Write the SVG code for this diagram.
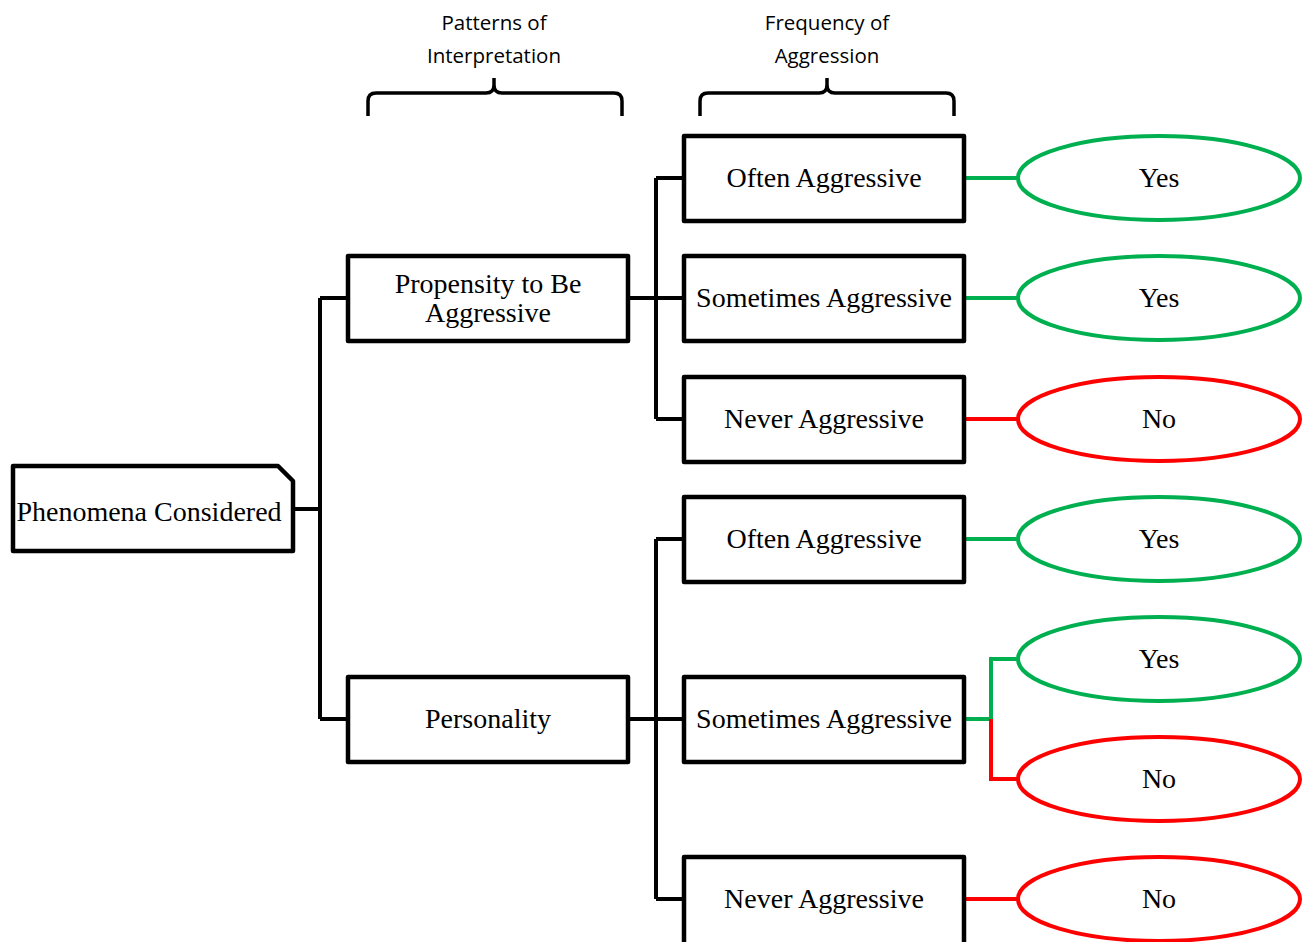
<svg xmlns="http://www.w3.org/2000/svg" width="1304" height="942" viewBox="0 0 1304 942">
<style>
.box{fill:#fff;stroke:#000;stroke-width:4.5;stroke-linejoin:round}
.t{font-family:"Liberation Serif","Times New Roman",serif;font-size:28px;fill:#000;text-anchor:middle}
.h{font-family:"Open Sans","Liberation Sans",Arial,sans-serif;font-size:20.5px;fill:#000;text-anchor:middle}
.k{fill:none;stroke:#000;stroke-width:4;stroke-linejoin:miter}
.g{fill:none;stroke:#00B050;stroke-width:4}
.r{fill:none;stroke:#FF0000;stroke-width:4}
.eg{fill:#fff;stroke:#00B050;stroke-width:4}
.er{fill:#fff;stroke:#FF0000;stroke-width:4}
.br{fill:none;stroke:#000;stroke-width:3.5;stroke-linejoin:round}
</style>
<rect width="1304" height="942" fill="#fff"/>
<g id="headers">
<text class="h" x="494" y="30">Patterns of</text>
<text class="h" x="494" y="63">Interpretation</text>
<text class="h" x="827" y="30">Frequency of</text>
<text class="h" x="827" y="63">Aggression</text>
<path class="br" d="M368,116 V101 Q368,93 376,93 H486 Q494,93 494,85 V78 M494,78 V85 Q494,93 502,93 H614 Q622,93 622,101 V116"/>
<path class="br" d="M700,116 V101 Q700,93 708,93 H819 Q827,93 827,85 V78 M827,78 V85 Q827,93 835,93 H946 Q954,93 954,101 V116"/>
</g>
<g id="connectors">
<path class="k" d="M293,509 H320 M320,298 V719 M320,298 H348 M320,719 H348"/>
<path class="k" d="M628,298 H684 M656,178 V419 M656,178 H684 M656,419 H684"/>
<path class="k" d="M628,719 H684 M656,539 V899 M656,539 H684 M656,899 H684"/>
<path class="g" d="M964,178 H1018 M964,298 H1018 M964,539 H1018 M964,719 H991 V659 H1018"/>
<path class="r" d="M964,419 H1018 M964,899 H1018 M991,719 V779 H1018"/>
</g>
<g id="phenomena">
<path class="box" d="M13,466 H278 L293,481 V551 H13 Z"/>
<text class="t" x="149" y="521">Phenomena Considered</text>
</g>
<g id="propensity">
<rect class="box" x="348" y="256" width="280" height="85"/>
<text class="t" x="488" y="293">Propensity to Be</text>
<text class="t" x="488" y="322">Aggressive</text>
</g>
<g id="personality">
<rect class="box" x="348" y="677" width="280" height="85"/>
<text class="t" x="488" y="728">Personality</text>
</g>
<g id="f1"><rect class="box" x="684" y="136" width="280" height="85"/><text class="t" x="824" y="187">Often Aggressive</text></g>
<g id="f2"><rect class="box" x="684" y="256" width="280" height="85"/><text class="t" x="824" y="307">Sometimes Aggressive</text></g>
<g id="f3"><rect class="box" x="684" y="377" width="280" height="85"/><text class="t" x="824" y="428">Never Aggressive</text></g>
<g id="f4"><rect class="box" x="684" y="497" width="280" height="85"/><text class="t" x="824" y="548">Often Aggressive</text></g>
<g id="f5"><rect class="box" x="684" y="677" width="280" height="85"/><text class="t" x="824" y="728">Sometimes Aggressive</text></g>
<g id="f6"><rect class="box" x="684" y="857" width="280" height="95"/><text class="t" x="824" y="908">Never Aggressive</text></g>
<g id="o1"><ellipse class="eg" cx="1159" cy="178" rx="141" ry="42"/><text class="t" x="1159" y="187">Yes</text></g>
<g id="o2"><ellipse class="eg" cx="1159" cy="298" rx="141" ry="42"/><text class="t" x="1159" y="307">Yes</text></g>
<g id="o3"><ellipse class="er" cx="1159" cy="419" rx="141" ry="42"/><text class="t" x="1159" y="428">No</text></g>
<g id="o4"><ellipse class="eg" cx="1159" cy="539" rx="141" ry="42"/><text class="t" x="1159" y="548">Yes</text></g>
<g id="o5"><ellipse class="eg" cx="1159" cy="659" rx="141" ry="42"/><text class="t" x="1159" y="668">Yes</text></g>
<g id="o6"><ellipse class="er" cx="1159" cy="779" rx="141" ry="42"/><text class="t" x="1159" y="788">No</text></g>
<g id="o7"><ellipse class="er" cx="1159" cy="899" rx="141" ry="42"/><text class="t" x="1159" y="908">No</text></g>
</svg>
